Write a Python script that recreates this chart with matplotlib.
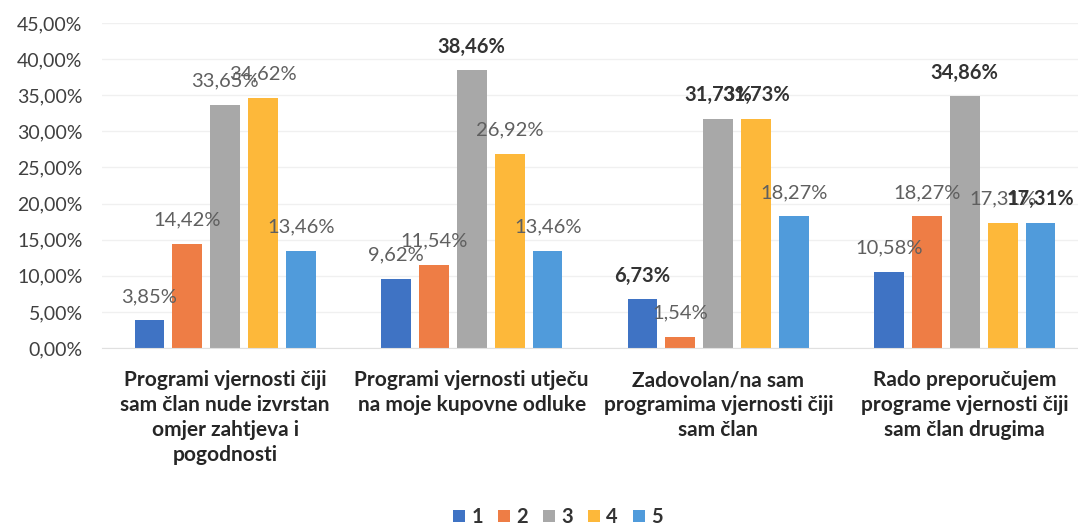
import numpy as np
import matplotlib.pyplot as plt

plt.rcParams['font.family'] = ['Lato', 'DejaVu Sans']

# --- data ---
categories = [
    "Programi vjernosti čiji\nsam član nude izvrstan\nomjer zahtjeva i\npogodnosti",
    "Programi vjernosti utječu\nna moje kupovne odluke",
    "Zadovolan/na sam\nprogramima vjernosti čiji\nsam član",
    "Rado preporučujem\nprograme vjernosti čiji\nsam član drugima",
]
series_names = ["1", "2", "3", "4", "5"]
s1 = [3.85, 9.62, 6.73, 10.58]
s2 = [14.42, 11.54, 1.54, 18.27]
s3 = [33.65, 38.46, 31.73, 34.86]
s4 = [34.62, 26.92, 31.73, 17.31]
s5 = [13.46, 13.46, 18.27, 17.31]
series = [s1, s2, s3, s4, s5]

colors = ['#3F73C4', '#EE7D45', '#A8A8A8', '#FDB83A', '#509BDB']
# labels that are drawn bold in the original (series index, category index)
bold_labels = {(2, 1), (0, 2), (2, 2), (3, 2), (2, 3), (4, 3)}

fig = plt.figure(figsize=(10.78, 5.29), dpi=100)
ax = fig.add_axes([102 / 1078, 1 - 348 / 529, 986 / 1078, 325 / 529])

x = np.arange(len(categories))
step = 0.154
width = 0.12
for i, (vals, col, name) in enumerate(zip(series, colors, series_names)):
    pos = x + (i - 2) * step
    ax.bar(pos, vals, width=width, color=col, label=name, zorder=2)
    for j, (p, v) in enumerate(zip(pos, vals)):
        txt = f"{v:.2f}%".replace('.', ',')
        bold = (i, j) in bold_labels
        ax.annotate(txt, (p, v), xytext=(0, 17), textcoords='offset points',
                    ha='center', va='center', fontsize=14.5,
                    fontweight='bold' if bold else 'normal',
                    color='#333333' if bold else '#5f5f5f', zorder=3)

ax.set_xlim(-0.5, len(categories) - 0.5)
ax.set_ylim(0, 45)
ax.set_yticks(np.arange(0, 46, 5))
ax.set_yticklabels([f"{t:.2f}%".replace('.', ',') for t in np.arange(0, 46, 5)])
ax.set_xticks(x)
ax.set_xticklabels(categories, fontsize=15, fontweight='bold', color='#262626',
                   linespacing=1.3)
ax.tick_params(axis='y', length=0, pad=14, labelsize=14, labelcolor='#404040')
ax.tick_params(axis='x', length=0, pad=16)

ax.grid(axis='y', color='#F0F0F0', lw=1, zorder=0)
for s in ['top', 'right', 'left']:
    ax.spines[s].set_visible(False)
ax.spines['bottom'].set_color('#E0E0E0')

leg = fig.legend(loc='center', bbox_to_anchor=(558 / 1078, 1 - 517 / 529), ncol=5,
                 frameon=False, handlelength=0.6, handleheight=0.6,
                 handletextpad=0.3, columnspacing=0.75,
                 prop={'weight': 'bold', 'size': 14.5})
for t in leg.get_texts():
    t.set_color('#333333')

fig.savefig('out.png', dpi=100)
